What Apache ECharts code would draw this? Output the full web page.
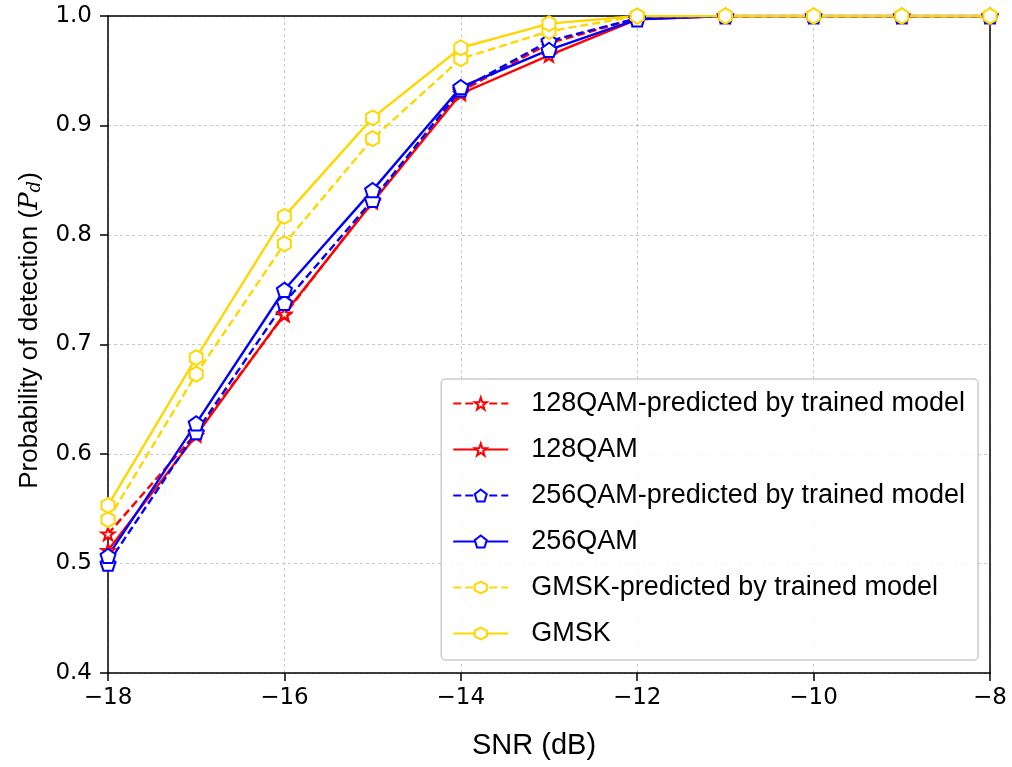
<!DOCTYPE html>
<html>
<head>
<meta charset="utf-8">
<script src="https://cdn.jsdelivr.net/npm/echarts@6/dist/echarts.min.js"></script>
<style>
  html, body { margin: 0; padding: 0; background: #fff; }
  #chart { width: 1012px; height: 767px; }
</style>
</head>
<body>
<div id="chart"></div>
<script>
// SNR sweep (dB)
const snr = [-18, -17, -16, -15, -14, -13, -12, -11, -10, -9, -8];

// Probability of detection per modulation
const qam128Pred = [0.527, 0.619, 0.727, 0.831, 0.931, 0.975, 0.998, 1.0, 1.0, 1.0, 1.0];
const qam128     = [0.512, 0.617, 0.728, 0.830, 0.929, 0.964, 0.997, 1.0, 1.0, 1.0, 1.0];
const qam256Pred = [0.500, 0.620, 0.738, 0.832, 0.933, 0.977, 0.998, 1.0, 1.0, 1.0, 1.0];
const qam256     = [0.507, 0.628, 0.750, 0.841, 0.935, 0.969, 0.997, 1.0, 1.0, 1.0, 1.0];
const gmskPred   = [0.540, 0.673, 0.792, 0.888, 0.961, 0.986, 1.0, 1.0, 1.0, 1.0, 1.0];
const gmsk       = [0.553, 0.688, 0.817, 0.907, 0.971, 0.993, 1.0, 1.0, 1.0, 1.0, 1.0];

const seriesNames = [
  '128QAM-predicted by trained model',
  '128QAM',
  '256QAM-predicted by trained model',
  '256QAM',
  'GMSK-predicted by trained model',
  'GMSK'
];

const STAR = 'path://M0,-10 L2.35,-3.24 L9.51,-3.09 L3.8,1.24 L5.88,8.09 L0,4 L-5.88,8.09 L-3.8,1.24 L-9.51,-3.09 L-2.35,-3.24 Z';
const PENTAGON = 'path://M0,-10 L9.51,-3.09 L5.88,8.09 L-5.88,8.09 L-9.51,-3.09 Z';
const HEXAGON = 'path://M0,-10 L8.66,-5 L8.66,5 L0,10 L-8.66,5 L-8.66,-5 Z';

const RED = '#ff0000', BLUE = '#0000ff', GOLD = '#ffd700';
const SANS = 'Liberation Sans, Arial, sans-serif';
const TICK_FONT = 'DejaVu Sans, sans-serif';

function makeSeries(name, values, color, symbol, size, dashed) {
  return {
    name: name,
    type: 'line',
    xAxisIndex: 0,
    yAxisIndex: 0,
    data: snr.map((x, i) => [x, values[i]]),
    symbol: symbol,
    symbolSize: size,
    symbolKeepAspect: true,
    showAllSymbol: true,
    clip: true,
    lineStyle: { color: color, width: 2.4, type: dashed ? [8, 4] : 'solid' },
    itemStyle: { color: '#fff', borderColor: color, borderWidth: 2 },
    emphasis: { disabled: true },
    z: 3
  };
}

const gridLine = { show: true, lineStyle: { color: '#c8c8c8', type: [3, 3], width: 1 } };
const spine = { show: true, onZero: false, lineStyle: { color: '#000', width: 1.5 } };

const chart = echarts.init(document.getElementById('chart'), null, { renderer: 'canvas' });

chart.setOption({
  animation: false,
  backgroundColor: '#fff',
  grid: { left: 108, right: 22, top: 16, bottom: 94 },
  legend: {
    data: seriesNames,
    orient: 'vertical',
    right: 34,
    bottom: 107,
    itemWidth: 55,
    itemHeight: 15,
    itemGap: 19,
    padding: [11, 13, 13, 11],
    borderColor: '#cccccc',
    borderWidth: 1.5,
    borderRadius: 4,
    backgroundColor: 'rgba(255,255,255,0.85)',
    textStyle: { fontFamily: SANS, fontSize: 27, lineHeight: 27, color: '#000', padding: [0, 0, 0, 18] }
  },
  xAxis: [{
    type: 'value',
    min: -18, max: -8, interval: 2,
    name: 'SNR (dB)',
    nameLocation: 'middle',
    nameGap: 58,
    nameTextStyle: { fontFamily: SANS, fontSize: 29, color: '#000', padding: [0, 30, 0, 0] },
    axisLine: spine,
    axisTick: { show: true, inside: false, length: 8, lineStyle: { color: '#000', width: 1.5 } },
    axisLabel: {
      fontFamily: TICK_FONT, fontSize: 23, color: '#000', margin: 14,
      formatter: v => (v < 0 ? '\u2212' + Math.abs(v) : String(v))
    },
    splitLine: gridLine
  }, {
    // top spine
    type: 'value', position: 'top', min: -18, max: -8, interval: 2,
    axisLine: spine, axisTick: { show: false }, axisLabel: { show: false }, splitLine: { show: false }
  }],
  yAxis: [{
    type: 'value',
    min: 0.4, max: 1.0, interval: 0.1,
    name: '{a|Probability of detection (}{i|P}{s|d}{a|)}',
    nameLocation: 'middle',
    nameGap: 64,
    nameRotate: 90,
    nameTextStyle: {
      padding: [0, 0, 0, 28],
      rich: {
        a: { fontFamily: SANS, fontSize: 26, color: '#000' },
        i: { fontFamily: 'DejaVu Serif, serif', fontStyle: 'italic', fontSize: 26, color: '#000' },
        s: { fontFamily: 'DejaVu Serif, serif', fontStyle: 'italic', fontSize: 18, color: '#000', verticalAlign: 'bottom', padding: [10, 0, 0, 0] }
      }
    },
    axisLine: spine,
    axisTick: { show: true, inside: false, length: 8, lineStyle: { color: '#000', width: 1.5 } },
    axisLabel: {
      fontFamily: TICK_FONT, fontSize: 23, color: '#000', margin: 16,
      formatter: v => v.toFixed(1)
    },
    splitLine: gridLine
  }, {
    // right spine
    type: 'value', position: 'right', min: 0.4, max: 1.0, interval: 0.1,
    axisLine: spine, axisTick: { show: false }, axisLabel: { show: false }, splitLine: { show: false }
  }],
  series: [
    makeSeries(seriesNames[0], qam128Pred, RED, STAR, 13, true),
    makeSeries(seriesNames[1], qam128, RED, STAR, 13, false),
    makeSeries(seriesNames[2], qam256Pred, BLUE, PENTAGON, 15, true),
    makeSeries(seriesNames[3], qam256, BLUE, PENTAGON, 15, false),
    makeSeries(seriesNames[4], gmskPred, GOLD, HEXAGON, 15, true),
    makeSeries(seriesNames[5], gmsk, GOLD, HEXAGON, 15, false)
  ]
});
</script>
</body>
</html>
